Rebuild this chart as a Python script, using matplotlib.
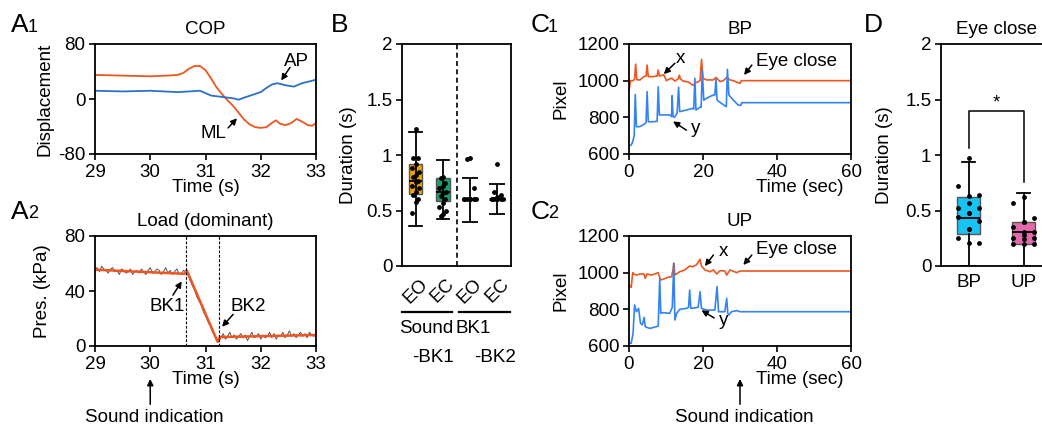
import matplotlib
matplotlib.use('Agg')
import matplotlib.pyplot as plt
import numpy as np

plt.rcParams['font.family'] = ['Liberation Sans', 'DejaVu Sans']
plt.rcParams['axes.unicode_minus'] = False

# ---- A1: COP traces
a1_ml_t = [29.0, 29.5, 30.0, 30.3, 30.5, 30.6, 30.7, 30.8, 30.9, 31.0, 31.1, 31.2, 31.3, 31.4, 31.5,
           31.6, 31.7, 31.8, 31.9, 32.0, 32.1, 32.2, 32.27, 32.35, 32.45, 32.55, 32.65, 32.75, 32.85,
           32.93, 33.0]
a1_ml_v = [35, 34, 33, 34, 35, 38, 44, 48, 48, 42, 30, 17, 7, -2, -10,
           -20, -30, -37, -41, -42, -41, -35, -31, -36, -38, -35, -29, -33, -38,
           -39, -35]
a1_ap_t = [29.0, 29.5, 30.0, 30.5, 30.9, 31.1, 31.3, 31.5, 31.6, 31.7, 31.85, 32.0, 32.1, 32.2,
           32.3, 32.45, 32.6, 32.75, 32.9, 33.0]
a1_ap_v = [12, 11, 12, 10, 12, 5, 3, 1, -1, 2, 6, 10, 16, 21,
           23, 20, 18, 23, 26, 28]

# ---- A2: load (raw, 0.04 s steps from 29 s) and piecewise fit
a2_raw = [55, 57, 54, 58, 56, 55, 53, 56, 57, 54, 55, 52, 56, 55, 53, 54, 56, 52, 54, 55, 53,
          56, 54, 52, 55, 57, 53, 54, 56, 55, 52, 54, 57, 53, 55, 52, 54, 56, 53, 52, 55, 54,
          52, 48, 44, 41, 36, 33, 30, 25, 22, 18, 15, 11, 8, 5, 3,
          6, 9, 5, 7, 10, 6, 8, 5, 7, 9, 6, 8, 4, 7, 10, 6, 7, 9, 5, 8, 6, 7, 10, 6, 9, 5,
          8, 7, 10, 6, 8, 11, 7, 9, 6, 8, 10, 7, 9, 6, 10, 8, 7, 9]
a2_fit_t = [29.0, 30.62, 30.66, 31.22, 31.26, 33.0]
a2_fit_v = [55.5, 52.5, 55, 3, 6.5, 8]
a2_breaks = [30.64, 31.24]

# ---- B: durations
b_labels = ['EO', 'EC', 'EO', 'EC']
b_box_stats = [(0.36, 0.645, 0.765, 0.92, 1.21), (0.42, 0.585, 0.665, 0.79, 0.955)]
b_eo_pts = [1.23, 0.97, 0.97, 0.92, 0.88, 0.85, 0.82, 0.80, 0.77, 0.76, 0.72, 0.70, 0.67, 0.64,
            0.60, 0.58, 0.48]
b_ec_pts = [0.80, 0.79, 0.75, 0.72, 0.70, 0.67, 0.66, 0.63, 0.60, 0.57, 0.53, 0.50, 0.47, 0.45]
b_bk_center = [0.60, 0.60]
b_bk_lo = [0.40, 0.47]
b_bk_hi = [0.79, 0.735]
b_bk_eo_pts = [0.97, 0.96, 0.70, 0.60, 0.60, 0.60, 0.60, 0.60, 0.60, 0.60, 0.60]
b_bk_ec_pts = [0.92, 0.67, 0.64, 0.62, 0.60, 0.60, 0.60, 0.60, 0.60, 0.60, 0.60]

# ---- C1: BP pixel traces
c1_x_t = [0, 0.4, 1.2, 1.5, 1.8, 2.1, 3.0, 4.0, 4.6, 4.9, 5.2, 6.5, 7.6, 7.9, 8.2, 9.4, 10.1,
          11.0, 11.6, 12.4, 13.3, 13.6, 13.9, 14.6, 16.0, 17.3, 18.2, 19.2, 19.6, 20.0, 21.0,
          22.8, 23.5, 24.6, 25.5, 26.4, 27.3, 28.2, 29.0, 30.0, 30.4, 60]
c1_x_v = [945, 1000, 1000, 1010, 1090, 1005, 1004, 1022, 1025, 1085, 1022, 1022, 1025, 1058,
          1025, 1032, 1000, 1010, 1013, 998, 1010, 1030, 1010, 998, 993, 975, 990, 1000, 1116,
          1013, 1004, 1004, 1018, 995, 1000, 1018, 1004, 1000, 993, 985, 1000, 1000]
c1_y_t = [0, 0.6, 1.0, 1.4, 1.7, 2.0, 2.9, 4.2, 4.6, 4.9, 5.2, 6.5, 7.6, 7.9, 8.2, 9.7, 11.0,
          11.5, 11.65, 11.9, 12.3, 13.0, 13.4, 13.7, 15.5, 17.2, 17.5, 17.8, 18.1, 19.2, 19.5,
          19.8, 20.2, 21.4, 22.8, 23.2, 23.5, 23.8, 25.0, 26.3, 26.6, 27.0, 28.2, 29.5, 30.2,
          30.5, 60]
c1_y_v = [644, 649, 667, 700, 925, 749, 749, 764, 771, 940, 776, 776, 778, 967, 813, 813, 813,
          804, 918, 804, 800, 822, 964, 831, 840, 849, 845, 1013, 840, 855, 855,
          1058, 894, 909, 922, 922, 1009, 894, 876, 858, 1062, 922, 894, 867, 865,
          880, 880]

# ---- C2: UP pixel traces
c2_x_t = [0, 0.6, 1.0, 1.3, 2.0, 3.0, 4.0, 4.4, 4.9, 6.0, 7.0, 7.9, 8.5, 9.2, 10.6, 11.5, 11.9,
          12.1, 12.4, 13.7, 15.1, 16.3, 17.2, 18.2, 19.2, 19.6, 20.5, 21.9, 22.8, 23.7, 24.6,
          25.9, 26.4, 27.3, 29.1, 30.0, 60]
c2_x_v = [933, 920, 1000, 993, 987, 993, 993, 969, 993, 987, 993, 1000, 960, 964, 975, 978, 1015,
          1051, 987, 1005, 1015, 1036, 1033, 1042, 1073, 1036, 1015, 1005, 1015, 993, 1011,
          1009, 987, 1015, 1000, 1009, 1009]
c2_y_t = [0, 0.6, 1.1, 1.5, 2.0, 2.6, 3.1, 3.6, 4.1, 4.4, 5.6, 7.4, 7.9, 8.3, 8.6, 9.2, 11.0,
          11.7, 12.1, 12.4, 12.9, 13.7, 15.5, 16.1, 16.4, 16.7, 18.7, 19.2, 19.6, 21.0, 23.2,
          23.8, 24.2, 25.9, 26.4, 26.7, 27.0, 27.7, 29.1, 30.0, 60]
c2_y_v = [615, 615, 669, 824, 787, 805, 724, 715, 756, 705, 696, 705, 709, 969, 778, 782, 778,
          811, 1051, 742, 778, 800, 805, 811, 905, 805, 811, 896, 805, 796, 796,
          924, 787, 787, 860, 778, 769, 787, 793, 787, 787]

# ---- D: eye close durations
d_labels = ['BP', 'UP']
d_box_stats = [(0.0, 0.285, 0.435, 0.625, 0.94), (0.0, 0.195, 0.31, 0.40, 0.66)]
d_bp_pts = [0.97, 0.72, 0.64, 0.63, 0.565, 0.52, 0.52, 0.477, 0.477, 0.444, 0.405, 0.333,
            0.333, 0.25, 0.204, 0.204]
d_up_pts = [0.625, 0.565, 0.43, 0.40, 0.40, 0.355, 0.31, 0.31, 0.28, 0.25, 0.25, 0.245,
            0.20, 0.20, 0.20]

ORANGE = '#EE5620'
BLUE_A = '#2C70C8'
BLUE_C = '#3383F2'
FS = 13.5

W, H = 1042, 425
fig = plt.figure(figsize=(W / 100, H / 100), dpi=100)


def add_ax(l, t, r, b):
    return fig.add_axes([l / W, 1 - b / H, (r - l) / W, (b - t) / H])


def style(ax):
    for s in ax.spines.values():
        s.set_linewidth(1.3)
    ax.tick_params(direction='out', length=4, width=1.2, labelsize=FS, pad=3)


def arrow(ax, start, end, **kw):
    ax.annotate('', xy=end, xytext=start, annotation_clip=False,
                arrowprops=dict(arrowstyle='-|>', color='black', lw=1.1, mutation_scale=9,
                                shrinkA=0, shrinkB=0), **kw)


def panel_label(x, y, letter, sub=''):
    fig.text(x / W, 1 - y / H, letter, fontsize=19, va='center', ha='left')
    if sub:
        fig.text((x + 17) / W, 1 - (y + 2) / H, sub, fontsize=13, va='center', ha='left')


fmt = matplotlib.ticker.FuncFormatter(lambda v, p: f'{v:g}')

# A1
ax = add_ax(95, 44, 316, 154)
style(ax)
ax.plot(a1_ml_t, a1_ml_v, color=ORANGE, lw=1.3)
ax.plot(a1_ap_t, a1_ap_v, color=BLUE_A, lw=1.3)
ax.set_xlim(29, 33)
ax.set_ylim(-80, 80)
ax.set_xticks([29, 30, 31, 32, 33])
ax.set_yticks([-80, 0, 80])
ax.set_title('COP', fontsize=FS, pad=7)
ax.set_xlabel('Time (s)', fontsize=FS)
ax.xaxis.set_label_coords(0.5, -0.23)
ax.set_ylabel('Displacement', fontsize=FS)
ax.yaxis.set_label_coords(-0.19, 0.5)
ax.text(32.65, 54, 'AP', fontsize=FS, ha='center', va='center')
arrow(ax, (32.53, 46), (32.37, 27))
ax.text(31.14, -50, 'ML', fontsize=FS, ha='center', va='center')
arrow(ax, (31.41, -42), (31.57, -28))

# A2
ax = add_ax(95, 236, 316, 346)
style(ax)
a2_t = 29 + 0.04 * np.arange(len(a2_raw))
ax.plot(a2_t, a2_raw, color='#555555', lw=0.7)
ax.plot(a2_fit_t, a2_fit_v, color=ORANGE, lw=1.8)
for xb in a2_breaks:
    ax.axvline(xb, color='black', lw=0.8, ls=(0, (2.5, 1.5)))
ax.set_xlim(29, 33)
ax.set_ylim(0, 80)
ax.set_xticks([29, 30, 31, 32, 33])
ax.set_yticks([0, 40, 80])
ax.set_title('Load (dominant)', fontsize=FS, pad=7)
ax.set_xlabel('Time (s)', fontsize=FS)
ax.xaxis.set_label_coords(0.5, -0.23)
ax.set_ylabel('Pres. (kPa)', fontsize=FS)
ax.yaxis.set_label_coords(-0.2, 0.5)
ax.text(30.3, 29, 'BK1', fontsize=FS, ha='center', va='center')
arrow(ax, (30.41, 37), (30.57, 47))
ax.text(31.77, 29, 'BK2', fontsize=FS, ha='center', va='center')
arrow(ax, (31.5, 23), (31.3, 14))
tr = ax.get_xaxis_transform()
arrow(ax, (30, -0.53), (30, -0.3), xycoords=tr, textcoords=tr)
ax.text(30.08, -0.65, 'Sound indication', transform=tr, fontsize=FS, ha='center', va='center')

# B
ax = add_ax(402, 44, 511, 266)
style(ax)
stats = [dict(whislo=s[0], q1=s[1], med=s[2], q3=s[3], whishi=s[4], fliers=[]) for s in b_box_stats]
bp = ax.bxp(stats, positions=[1, 2], widths=0.5, patch_artist=True, showfliers=False,
            boxprops=dict(edgecolor='#555555', lw=1.0),
            medianprops=dict(color='black', lw=1.3),
            whiskerprops=dict(color='black', lw=1.3),
            capprops=dict(color='black', lw=1.3), capwidths=0.45)
for patch, c in zip(bp['boxes'], ['#F5A200', '#16A06C']):
    patch.set_facecolor(c)
for pos, s in zip([1, 2], b_box_stats):
    ax.vlines(pos, s[1], s[3], color='black', lw=1.3, zorder=3)
jit = np.array([0, -0.1, 0.1, 0, -0.16, 0.16])
for pos, pts in zip([1, 2], [b_eo_pts, b_ec_pts]):
    ax.scatter(pos + np.resize(jit, len(pts)) * 0.8, pts, s=6, color='black', zorder=4)
for pos, c, lo, hi, pts in zip([3, 4], b_bk_center, b_bk_lo, b_bk_hi, [b_bk_eo_pts, b_bk_ec_pts]):
    ax.errorbar(pos, c, yerr=[[c - lo], [hi - c]], color='black', lw=1.3, capsize=6, capthick=1.3)
    ax.hlines(c, pos - 0.29, pos + 0.29, color='black', lw=2.2, zorder=3)
    ax.scatter(pos + np.resize(jit, len(pts)) * 1.3, pts, s=6, color='black', zorder=4)
ax.axvline(2.5, color='black', lw=1.2, ls=(0, (3, 2)))
ax.set_xlim(0.5, 4.5)
ax.set_ylim(0, 2)
ax.set_yticks([0, 0.5, 1, 1.5, 2])
ax.yaxis.set_major_formatter(fmt)
ax.set_xticks([1, 2, 3, 4])
ax.set_xticklabels(b_labels, rotation=45, ha='center', va='top')
ax.tick_params(axis='x', length=0, pad=7)
ax.set_ylabel('Duration (s)', fontsize=FS)
ax.yaxis.set_label_coords(-0.41, 0.5)
tr = ax.get_xaxis_transform()
ax.plot([0.5, 2.33], [-0.207, -0.207], color='black', lw=1.6, transform=tr, clip_on=False)
ax.plot([2.6, 4.46], [-0.207, -0.207], color='black', lw=1.6, transform=tr, clip_on=False)
ax.text(1.38, -0.28, 'Sound', transform=tr, fontsize=FS, ha='center', va='center')
ax.text(3.1, -0.28, 'BK1', transform=tr, fontsize=FS, ha='center', va='center')
ax.text(1.64, -0.414, '-BK1', transform=tr, fontsize=FS, ha='center', va='center')
ax.text(3.91, -0.414, '-BK2', transform=tr, fontsize=FS, ha='center', va='center')


# C1, C2
def pixel_panel(ax, xt, xv, yt, yv, title, xlab, ylab):
    style(ax)
    ax.plot(xt, xv, color=ORANGE, lw=1.2)
    ax.plot(yt, yv, color=BLUE_C, lw=1.2)
    ax.set_xlim(0, 60)
    ax.set_ylim(600, 1200)
    ax.set_xticks([0, 20, 40, 60])
    ax.set_yticks([600, 800, 1000, 1200])
    ax.set_title(title, fontsize=FS, pad=7)
    ax.set_xlabel('Time (sec)', fontsize=FS)
    ax.xaxis.set_label_coords(0.77, -0.23)
    ax.set_ylabel('Pixel', fontsize=FS)
    ax.yaxis.set_label_coords(-0.266, 0.5)
    ax.text(xlab[0], xlab[1], 'x', fontsize=FS, ha='center', va='center')
    arrow(ax, xlab[2], xlab[3])
    ax.text(ylab[0], ylab[1], 'y', fontsize=FS, ha='center', va='center')
    arrow(ax, ylab[2], ylab[3])


ax = add_ax(629, 44, 851, 154)
pixel_panel(ax, c1_x_t, c1_x_v, c1_y_t, c1_y_v, 'BP',
            (13.9, 1122, (12.4, 1095), (9.4, 1036)),
            (17.9, 740, (15.5, 730), (11.9, 778)))
ax.text(45.3, 1104, 'Eye close', fontsize=FS, ha='center', va='center')
arrow(ax, (33.2, 1085), (31.1, 1031))

ax = add_ax(629, 236, 851, 346)
pixel_panel(ax, c2_x_t, c2_x_v, c2_y_t, c2_y_v, 'UP',
            (25.5, 1115, (22.8, 1096), (20.5, 1036)),
            (25.7, 740, (23.0, 753), (19.6, 795)))
ax.text(45.3, 1124, 'Eye close', fontsize=FS, ha='center', va='center')
arrow(ax, (33.2, 1096), (30.9, 1042))
tr = ax.get_xaxis_transform()
arrow(ax, (30, -0.53), (30, -0.3), xycoords=tr, textcoords=tr)
ax.text(31.2, -0.65, 'Sound indication', transform=tr, fontsize=FS, ha='center', va='center')

# D
ax = add_ax(941, 44, 1051, 266)
style(ax)
stats = [dict(whislo=s[0], q1=s[1], med=s[2], q3=s[3], whishi=s[4], fliers=[]) for s in d_box_stats]
bp = ax.bxp(stats, positions=[1, 2], widths=0.42, patch_artist=True, showfliers=False,
            boxprops=dict(edgecolor='#555555', lw=1.0),
            medianprops=dict(color='black', lw=1.3),
            whiskerprops=dict(color='black', lw=1.3),
            capprops=dict(color='black', lw=1.3), capwidths=0.24)
for patch, c in zip(bp['boxes'], ['#16C3F2', '#E26AAC']):
    patch.set_facecolor(c)
djit = np.array([0, -0.19, 0.19, 0])
for pos, pts in zip([1, 2], [d_bp_pts, d_up_pts]):
    ax.scatter(pos + np.resize(djit, len(pts)), pts, s=6, color='black', zorder=4)
ax.plot([1, 1, 2, 2], [1.06, 1.40, 1.40, 0.76], color='black', lw=1.1)
ax.text(1.5, 1.47, '*', fontsize=FS, ha='center', va='center')
ax.set_xlim(0.5, 2.5)
ax.set_ylim(0, 2)
ax.set_yticks([0, 0.5, 1, 1.5, 2])
ax.yaxis.set_major_formatter(fmt)
ax.set_xticks([1, 2])
ax.set_xticklabels(d_labels)
ax.tick_params(axis='x', length=0, pad=6)
ax.set_title('Eye close', fontsize=FS, pad=7)
ax.set_ylabel('Duration (s)', fontsize=FS)
ax.yaxis.set_label_coords(-0.436, 0.5)

panel_label(11, 25, 'A', '1')
panel_label(11, 212, 'A', '2')
panel_label(331, 25, 'B')
panel_label(531, 25, 'C', '1')
panel_label(531, 212, 'C', '2')
panel_label(864, 25, 'D')

fig.savefig('out.png', dpi=100)
